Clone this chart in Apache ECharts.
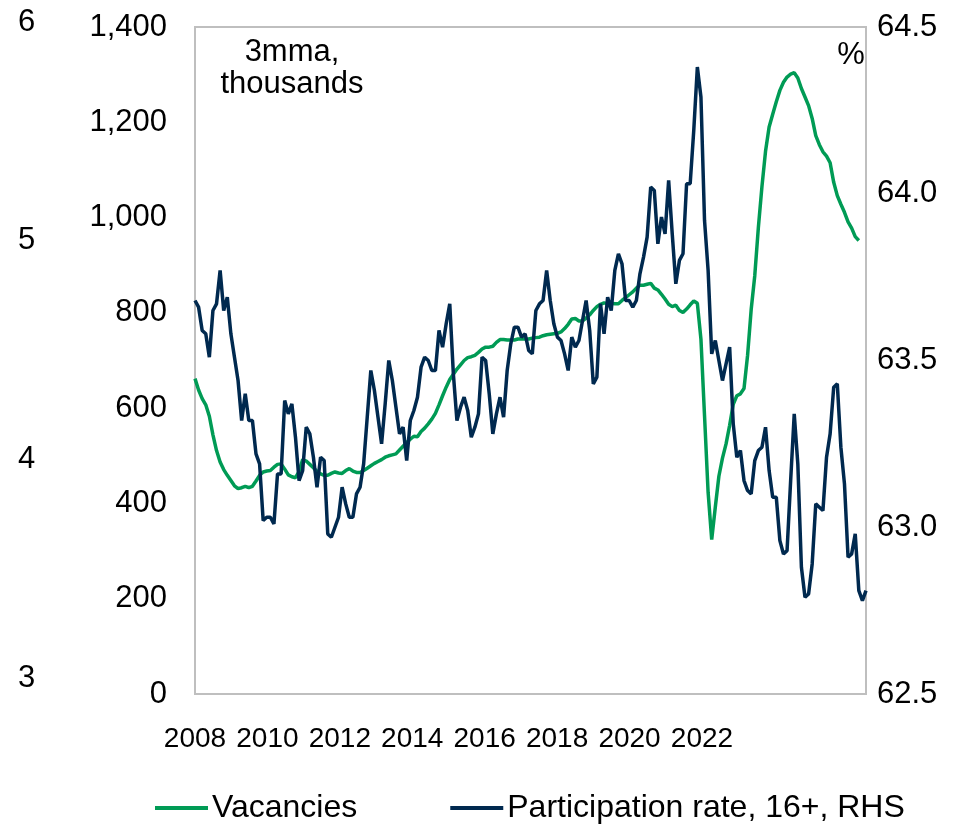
<!DOCTYPE html>
<html>
<head>
<meta charset="utf-8">
<script src="https://cdn.jsdelivr.net/npm/echarts/dist/echarts.min.js"></script>
<style>html,body{margin:0;padding:0;background:#fff}#c{width:974px;height:829px}</style>
</head>
<body>
<div id="c"></div>
<script>
// Vacancies, 3mma, thousands (LHS)
const vacancies = [662, 638, 620, 607, 583, 544, 511, 487, 471, 459,
  448, 437, 431, 433, 436, 433, 436, 447, 459, 466,
  468, 469, 476, 482, 483, 472, 460, 456, 454, 467,
  492, 489, 482, 475, 467, 462, 459, 459, 463, 466,
  464, 463, 469, 473, 468, 465, 465, 469, 474, 479,
  484, 488, 492, 497, 500, 502, 504, 512, 520, 528,
  535, 541, 540, 551, 558, 567, 577, 589, 607, 626,
  644, 660, 671, 682, 691, 700, 706, 708, 711, 717,
  724, 728, 728, 730, 738, 744, 744, 743, 743, 743,
  745, 745, 745, 745, 747, 748, 749, 752, 754, 755,
  756, 757, 760, 767, 776, 787, 788, 783, 783, 789,
  796, 805, 813, 818, 821, 819, 820, 819, 819, 826,
  832, 838, 844, 852, 858, 858, 860, 862, 852, 848,
  839, 829, 818, 813, 816, 805, 801, 808, 817, 825,
  820, 745, 584, 423, 324, 392, 457, 495, 525, 564,
  608, 626, 630, 641, 711, 807, 878, 979, 1065, 1139,
  1190, 1217, 1243, 1267, 1284, 1295, 1301, 1304, 1293, 1271,
  1253, 1235, 1208, 1172, 1153, 1138, 1129, 1115, 1074, 1046,
  1028, 1011, 991, 978, 960, 952, null, null];

// Participation rate, 16+, % (RHS)
const participation = [63.68, 63.66, 63.59, 63.58, 63.51, 63.65, 63.67, 63.77, 63.65, 63.69,
  63.58, 63.51, 63.44, 63.32, 63.40, 63.32, 63.32, 63.22, 63.19, 63.02,
  63.03, 63.03, 63.01, 63.16, 63.16, 63.38, 63.34, 63.37, 63.27, 63.14,
  63.17, 63.30,
  63.28, 63.21, 63.12, 63.21, 63.20, 62.98, 62.97, 63.00, 63.03, 63.12,
  63.07, 63.03, 63.03, 63.10, 63.12, 63.19, 63.33, 63.47, 63.41, 63.33,
  63.25, 63.37, 63.50, 63.44, 63.36, 63.28, 63.30, 63.20, 63.32, 63.35,
  63.39,
  63.48, 63.51, 63.50, 63.47, 63.47, 63.59, 63.54, 63.61, 63.67, 63.46,
  63.32, 63.36, 63.39, 63.35, 63.27, 63.30, 63.34, 63.51, 63.50, 63.40,
  63.28, 63.34, 63.39, 63.33, 63.47, 63.55, 63.60, 63.60, 63.57, 63.58,
  63.53, 63.52, 63.65, 63.67, 63.68, 63.77, 63.68, 63.61, 63.57, 63.56,
  63.52, 63.47, 63.57, 63.54, 63.56, 63.62, 63.68, 63.59, 63.43, 63.45,
  63.67, 63.58, 63.69, 63.65, 63.77, 63.82, 63.79, 63.68, 63.68, 63.66,
  63.68, 63.76, 63.81, 63.87, 64.02, 64.01, 63.85, 63.93, 63.88, 64.04,
  63.88, 63.73, 63.80, 63.82, 64.03, 64.03, 64.19,
  64.38, 64.29, 63.92, 63.77, 63.52, 63.56, 63.50, 63.44, 63.49, 63.54,
  63.31, 63.21, 63.23, 63.14, 63.11, 63.10, 63.20, 63.23, 63.24, 63.30,
  63.17, 63.09, 63.09, 62.96, 62.92, 62.93, 63.14, 63.34, 63.19, 62.88,
  62.79, 62.80, 62.89, 63.07, 63.06, 63.05, 63.21, 63.28, 63.42, 63.43,
  63.24, 63.13, 62.91, 62.92, 62.98, 62.81, 62.78, 62.81];

// Monthly categories (one per observation)
const months = [];
for (let i = 0; i < participation.length; i++) {
  months.push((2008 + Math.floor(i / 12)) + '-' + String(i % 12 + 1).padStart(2, '0'));
}

const yearLabels = [2008, 2010, 2012, 2014, 2016, 2018, 2020, 2022];
const leftTicks = [0, 200, 400, 600, 800, 1000, 1200, 1400];
const rightTicks = [62.5, 63.0, 63.5, 64.0, 64.5];
const outerTicks = [3, 4, 5, 6];
const seriesNames = ['Vacancies', 'Participation rate, 16+, RHS'];

const FONT = "'Liberation Sans', Arial, Helvetica, sans-serif";
const GREEN = '#009B55';
const NAVY = '#00294F';

const chart = echarts.init(document.getElementById('c'), null, {renderer: 'canvas'});
const noLine = {axisLine: {show: false}, axisTick: {show: false}, splitLine: {show: false}};

chart.setOption({
  animation: false,
  backgroundColor: '#ffffff',
  textStyle: {fontFamily: FONT},
  grid: [
    {left: 195, right: 108, top: 27, bottom: 135, show: true, borderColor: '#BFBFBF', borderWidth: 2,
     backgroundColor: 'transparent', containLabel: false, outerBoundsMode: 'none'},
    {left: 40, width: 10, top: 22, height: 656, show: false, containLabel: false, outerBoundsMode: 'none'}
  ],
  xAxis: [
    {type: 'category', gridIndex: 0, data: months, boundaryGap: false, show: false},
    Object.assign({type: 'value', gridIndex: 0, position: 'bottom', min: 2008, max: 2026.53, interval: 2,
      axisLabel: {fontSize: 28, color: '#000', margin: 31, fontFamily: FONT, hideOverlap: false,
        showMinLabel: true, formatter: v => yearLabels.includes(v) ? String(v) : ''}}, noLine),
    {type: 'value', gridIndex: 1, show: false, min: 0, max: 1}
  ],
  yAxis: [
    Object.assign({type: 'value', gridIndex: 0, position: 'left', min: leftTicks[0], max: leftTicks[leftTicks.length - 1], interval: 200,
      axisLabel: {fontSize: 31, color: '#000', margin: 28, fontFamily: FONT,
        formatter: v => v.toLocaleString('en-US')}}, noLine),
    Object.assign({type: 'value', gridIndex: 0, position: 'right', min: rightTicks[0], max: rightTicks[rightTicks.length - 1], interval: 0.5,
      axisLabel: {fontSize: 31, color: '#000', margin: 11, fontFamily: FONT,
        formatter: v => v.toFixed(1)}}, noLine),
    Object.assign({type: 'value', gridIndex: 1, position: 'left', min: outerTicks[0], max: outerTicks[outerTicks.length - 1], interval: 1,
      axisLabel: {fontSize: 31, color: '#000', margin: 22, align: 'left', fontFamily: FONT}}, noLine)
  ],
  legend: {
    left: 155, top: 792, padding: 0, itemWidth: 53, itemHeight: 4, itemGap: 93, icon: 'rect',
    textStyle: {fontSize: 32, color: '#000', fontFamily: FONT, padding: [0, 0, 0, -1]},
    data: seriesNames
  },
  graphic: [
    {type: 'text', style: {x: 292, y: 52, text: '3mma,', font: '31px ' + FONT, fill: '#000', textAlign: 'center', textVerticalAlign: 'middle'}},
    {type: 'text', style: {x: 292, y: 84, text: 'thousands', font: '31px ' + FONT, fill: '#000', textAlign: 'center', textVerticalAlign: 'middle'}},
    {type: 'text', style: {x: 851, y: 55, text: '%', font: '31px ' + FONT, fill: '#000', textAlign: 'center', textVerticalAlign: 'middle'}}
  ],
  series: [
    {name: seriesNames[0], type: 'line', xAxisIndex: 0, yAxisIndex: 0, data: vacancies,
     symbol: 'none', lineStyle: {width: 3.5, color: GREEN}, itemStyle: {color: GREEN}, z: 2},
    {name: seriesNames[1], type: 'line', xAxisIndex: 0, yAxisIndex: 1, data: participation,
     symbol: 'none', lineStyle: {width: 3.5, color: NAVY}, itemStyle: {color: NAVY}, z: 3}
  ]
});
</script>
</body>
</html>
